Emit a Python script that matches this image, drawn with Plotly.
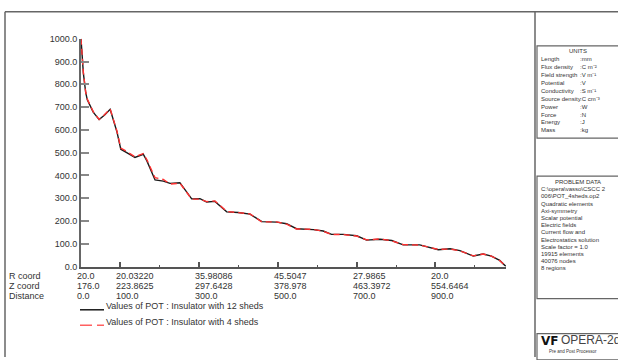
import plotly.graph_objects as go

W, H = 618, 360

# ---- data ----
distance = [0, 2, 6, 12, 16, 31, 46, 60, 74, 91,
            101, 116, 137, 158, 167, 188, 209, 226, 251, 281,
            302, 319, 340, 370, 399, 429, 459, 497, 522, 547,
            590, 615, 636, 666, 700, 725, 759, 789, 818, 860,
            881, 907, 937, 962, 996, 1021, 1042, 1063, 1079]
pot_12_sheds = [1000, 926, 849, 763, 732, 678, 645, 665, 690, 593,
                515, 500, 479, 493, 465, 380, 375, 365, 368, 297,
                298, 283, 286, 240, 237, 230, 197, 195, 188, 166,
                162, 156, 141, 141, 135, 116, 120, 114, 95, 95,
                85, 74, 78, 70, 46, 55, 46, 27, 0]
pot_4_sheds = [1000, 930, 852, 765, 735, 680, 646, 667, 692, 596,
               520, 505, 482, 496, 470, 390, 382, 362, 366, 296,
               296, 285, 288, 242, 235, 231, 196, 196, 186, 165,
               163, 155, 141, 140, 134, 117, 121, 113, 96, 94,
               86, 75, 77, 69, 47, 55, 46, 26, 0]

y_ticks = [0, 100, 200, 300, 400, 500, 600, 700, 800, 900, 1000]
y_tick_text = [f"{v:.1f}" for v in y_ticks]

x_major = [100, 300, 500, 700, 900]
x_minor = [200, 400, 600, 800, 1000]
label_pos = [0, 100, 300, 500, 700, 900]
r_coord = ["20.0", "20.03220", "35.98086", "45.5047", "27.9865", "20.0"]
z_coord = ["176.0", "223.8625", "297.6428", "378.978", "463.3972", "554.6464"]
dist_lbl = ["0.0", "100.0", "300.0", "500.0", "700.0", "900.0"]

series_names = ["Values of POT : Insulator with 12 sheds",
                "Values of POT : Insulator with 4 sheds"]

units_names = ["Length", "Flux density", "Field strength", "Potential", "Conductivity",
               "Source density", "Power", "Force", "Energy", "Mass"]
units_vals = [":mm", ":C m\u207b\u00b2", ":V m\u207b\u00b9", ":V", ":S m\u207b\u00b9",
              ":C cm\u207b\u00b3", ":W", ":N", ":J", ":kg"]
problem_lines = ["C:\\opera\\vasso\\CSCC 2", "006\\POT_4sheds.op2", "Quadratic elements",
                 "Axi-symmetry", "Scalar potential", "Electric fields", "Current flow and",
                 "Electrostatics solution", "Scale factor = 1.0", "19915 elements",
                 "40076 nodes", "8 regions"]

FONT = "Liberation Sans, Arial, sans-serif"
TXT = "#333333"


def px(x):
    return x / W


def py(y):
    return 1 - y / H


fig = go.Figure()
fig.add_trace(go.Scatter(x=distance, y=pot_12_sheds, mode="lines",
                         line=dict(color="#1a1a1a", width=1.4), name=series_names[0],
                         showlegend=False))
fig.add_trace(go.Scatter(x=distance, y=pot_4_sheds, mode="lines",
                         line=dict(color="#ff3030", width=1.4, dash="6px,4px"),
                         name=series_names[1], showlegend=False))

x0p, x1p = 81, 506
y0p, y1p = 269, 34.7

fig.update_layout(
    width=W, height=H, autosize=False,
    margin=dict(l=0, r=0, t=0, b=0),
    paper_bgcolor="white", plot_bgcolor="white",
    font=dict(family=FONT, size=9, color=TXT),
    xaxis=dict(domain=[px(x0p), px(x1p)], range=[0, 1079], showgrid=False, zeroline=False,
               showline=True, linecolor="#555", linewidth=2,
               ticks="inside", tickvals=x_major, ticklen=5, tickwidth=1.5, tickcolor="#555",
               showticklabels=False,
               minor=dict(tickvals=x_minor, ticks="inside", ticklen=2, tickwidth=1,
                          tickcolor="#555")),
    yaxis=dict(domain=[py(y0p), py(y1p)], range=[0, 1000], showgrid=False, zeroline=False,
               showline=True, linecolor="#666", linewidth=2,
               ticks="inside", tickvals=y_ticks, ticktext=y_tick_text, ticklen=8,
               tickwidth=2, tickcolor="#888",
               tickfont=dict(size=9, color=TXT, family=FONT)),
)

shapes = []
ann = []


def line(xa, ya, xb, yb, color="#666", width=1.5, dash=None):
    d = dict(type="line", xref="paper", yref="paper", x0=px(xa), y0=py(ya), x1=px(xb), y1=py(yb),
             line=dict(color=color, width=width))
    if dash:
        d["line"]["dash"] = dash
    shapes.append(d)


def rect(xa, ya, xb, yb, color="#666", width=1.2):
    shapes.append(dict(type="rect", xref="paper", yref="paper", x0=px(xa), y0=py(ya),
                       x1=px(xb), y1=py(yb), line=dict(color=color, width=width)))


def text(x, y, s, size=9, anchor="left", color=TXT, bold=False, fam=FONT):
    if bold:
        s = f"<b>{s}</b>"
    ann.append(dict(xref="paper", yref="paper", x=px(x), y=py(y), text=s, showarrow=False,
                    xanchor=anchor, yanchor="middle", font=dict(size=size, color=color, family=fam)))


# frame
line(5, 7, 620, 7)
line(5, 7, 5, 362)
line(535, 7, 535, 362)

# axis label rows
row_y = [279, 289, 299]
for lbl, y in zip(["R coord", "Z coord", "Distance"], row_y):
    text(7, y, lbl, size=9)
for rows, y in zip([r_coord, z_coord, dist_lbl], row_y):
    for pos, s in zip(label_pos, rows):
        ann.append(dict(xref="x", yref="paper", x=pos, y=py(y), text=s, showarrow=False,
                        xanchor="left", yanchor="middle", xshift=-6,
                        font=dict(size=9, color=TXT, family=FONT)))

# legend
line(80, 313.5, 104, 313.5, color="#1a1a1a", width=1.5)
text(104, 310, series_names[0], size=9)
line(80, 329.5, 104, 329.5, color="#ff6060", width=1.5, dash="12px,5px")
text(104, 326, series_names[1], size=9)

# units box
rect(537, 42, 625, 137)
text(578, 47, "UNITS", size=6, anchor="center")
for i, (n, v) in enumerate(zip(units_names, units_vals)):
    y = 56 + i * 8.1
    text(539, y, n, size=6)
    text(578, y, v, size=6)

# problem data box
rect(537, 176, 625, 302)
text(578, 182, "PROBLEM DATA", size=6, anchor="center")
for i, s in enumerate(problem_lines):
    text(539, 189.5 + i * 7.4, s, size=6)

# OPERA box
rect(537, 338, 625, 365)
text(539, 346, "VF", size=12, bold=True, color="#111", fam="DejaVu Sans, sans-serif")
text(559, 345, "OPERA-2d", size=12, color="#444")
text(547, 356, "Pre and Post Processor", size=4.5)

fig.update_layout(shapes=shapes, annotations=ann)
fig.write_html("out.html")
